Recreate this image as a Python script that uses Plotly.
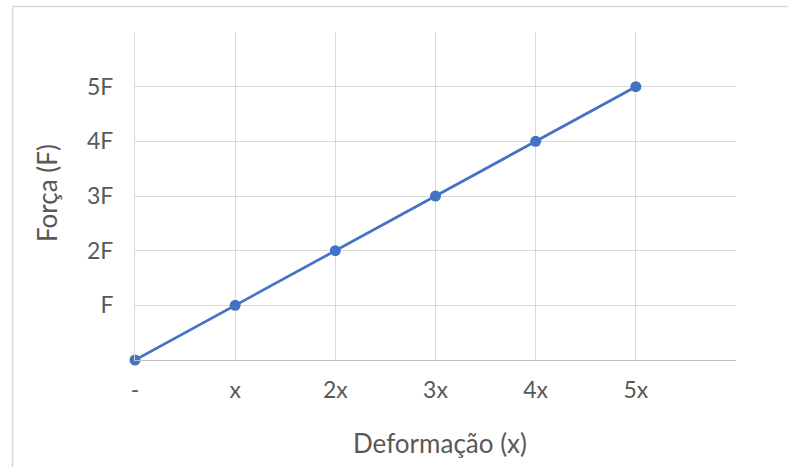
import plotly.graph_objects as go

# Hooke's law: force grows linearly with deformation
deformacao = [0, 1, 2, 3, 4, 5]
forca = [0, 1, 2, 3, 4, 5]

x_tick_vals = [0, 1, 2, 3, 4, 5, 6]
x_tick_text = ["-", "x", "2x", "3x", "4x", "5x", ""]
y_tick_vals = [0, 1, 2, 3, 4, 5, 6]
y_tick_text = ["", "F", "2F", "3F", "4F", "5F", ""]

FONT = "Lato"
TEXT_COLOR = "#595959"
GRID = "#d9d9d9"
TICK_SIZE = 23
TITLE_SIZE = 26

fig = go.Figure()
fig.add_trace(go.Scatter(
    x=deformacao, y=forca,
    mode="lines+markers",
    line=dict(color="#4472C4", width=2.75),
    marker=dict(color="#4472C4", size=11),
    cliponaxis=False,
    showlegend=False,
))

fig.update_layout(
    width=788, height=467,
    margin=dict(l=135, r=52, t=32, b=107),
    paper_bgcolor="white",
    plot_bgcolor="white",
    font=dict(family=FONT, color=TEXT_COLOR, size=TICK_SIZE),
    xaxis=dict(
        range=[0, 6], tickmode="array", tickvals=x_tick_vals, ticktext=x_tick_text,
        showgrid=True, gridcolor=GRID, gridwidth=1,
        zeroline=False, showline=True, linecolor="#bfbfbf", linewidth=1,
        ticks="outside", ticklen=9, tickcolor="rgba(0,0,0,0)",
        tickfont=dict(size=TICK_SIZE, color=TEXT_COLOR, family=FONT),
        fixedrange=True,
    ),
    yaxis=dict(
        range=[0, 6], tickmode="array", tickvals=y_tick_vals, ticktext=y_tick_text,
        showgrid=True, gridcolor=GRID, gridwidth=1,
        zeroline=False, showline=True, linecolor=GRID, linewidth=1,
        ticks="outside", ticklen=16, tickcolor="rgba(0,0,0,0)",
        tickfont=dict(size=TICK_SIZE, color=TEXT_COLOR, family=FONT),
        fixedrange=True,
    ),
    annotations=[
        dict(text="Deformação (x)", xref="paper", yref="paper",
             x=(440 - 135) / 601, y=(360 - 443) / 328, xanchor="center", yanchor="middle",
             showarrow=False, font=dict(size=TITLE_SIZE, color=TEXT_COLOR, family=FONT)),
        dict(text="Força (F)", xref="paper", yref="paper",
             x=(47 - 135) / 601, y=(360 - 193) / 328, xanchor="center", yanchor="middle",
             textangle=-90, showarrow=False,
             font=dict(size=TITLE_SIZE, color=TEXT_COLOR, family=FONT)),
    ],
    shapes=[
        # chart frame (left and top edges)
        dict(type="line", xref="paper", yref="paper",
             x0=(12.5 - 135) / 601, x1=(800 - 135) / 601,
             y0=(360 - 6.5) / 328, y1=(360 - 6.5) / 328,
             line=dict(color=GRID, width=1.5)),
        dict(type="line", xref="paper", yref="paper",
             x0=(12.5 - 135) / 601, x1=(12.5 - 135) / 601,
             y0=(360 - 6.5) / 328, y1=(360 - 480) / 328,
             line=dict(color=GRID, width=1.5)),
    ],
)

fig.write_html("out.html")
